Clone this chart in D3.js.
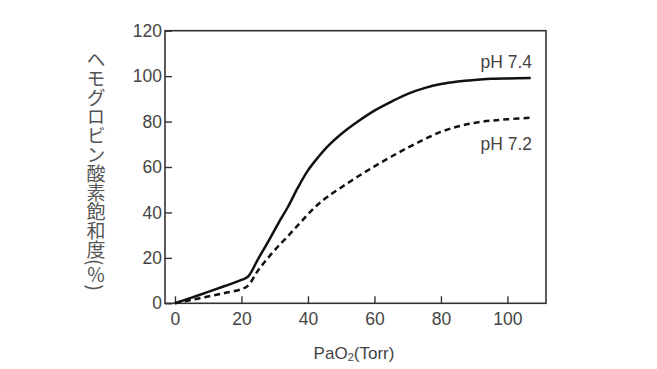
<!DOCTYPE html>
<html>
<head>
<meta charset="utf-8">
<script src="https://cdn.jsdelivr.net/npm/d3@7"></script>
<style>
  html, body { margin: 0; padding: 0; background: #fff; }
  svg { display: block; }
</style>
</head>
<body>
<svg id="chart" width="657" height="369"></svg>
<script>
// ---- data ----
const pao2 = [0, 5, 10, 15, 20, 22, 25, 28, 31, 34, 37, 40, 43, 46, 50, 55, 60, 65, 70, 75, 80, 85, 90, 95, 100, 107];
const satPH74 = [0, 2.5, 5, 7.6, 10.3, 11.8, 19.5, 27, 35, 42.5, 51, 58.5, 64.2, 69.2, 74.5, 80, 84.8, 88.7, 92.2, 94.7, 96.5, 97.6, 98.3, 98.8, 99, 99.2];
const satPH72 = [0, 1.5, 3, 4.5, 6.2, 7.8, 14.5, 20, 25, 29.6, 34.4, 39.2, 43.5, 47, 51, 55.8, 60.3, 64.5, 68.5, 72.2, 75.5, 77.8, 79.4, 80.4, 81, 81.7];
const xTicks = [0, 20, 40, 60, 80, 100];
const yTicks = [0, 20, 40, 60, 80, 100, 120];
const seriesLabels = ["pH 7.4", "pH 7.2"];
const xLabelMain = "PaO";
const xLabelSub = "2";
const xLabelTail = "(Torr)";
const yLabel = "ヘモグロビン酸素飽和度(％)";

// ---- layout ----
const svg = d3.select("#chart");
const pLeft = 165, pRight = 546, pTop = 30.7, pBottom = 303.3;
const x = d3.scaleLinear().domain([-3, 111.6]).range([pLeft, pRight]);
const y = d3.scaleLinear().domain([0, 120]).range([pBottom, pTop]);

const textColor = "#444";
const fontFam = "'Liberation Sans', Arial, Helvetica, sans-serif";

// box
svg.append("rect")
  .attr("x", pLeft).attr("y", pTop)
  .attr("width", pRight - pLeft).attr("height", pBottom - pTop)
  .attr("fill", "none").attr("stroke", "#333").attr("stroke-width", 1.6);

// y axis
const gy = svg.append("g").attr("transform", `translate(${pLeft},0)`)
  .call(d3.axisLeft(y).tickValues(yTicks).tickSizeInner(-7).tickSizeOuter(0).tickPadding(3));
gy.select(".domain").remove();
gy.selectAll(".tick line").attr("stroke", "#333").attr("stroke-width", 1.4);
gy.selectAll(".tick text").attr("fill", textColor).attr("font-size", 17.5).attr("font-family", fontFam);

// x axis
const gx = svg.append("g").attr("transform", `translate(0,${pBottom})`)
  .call(d3.axisBottom(x).tickValues(xTicks).tickSizeInner(-7).tickSizeOuter(0).tickPadding(9));
gx.select(".domain").remove();
gx.selectAll(".tick line").attr("stroke", "#333").attr("stroke-width", 1.4);
gx.selectAll(".tick text").attr("fill", textColor).attr("font-size", 17.5).attr("font-family", fontFam);

// lines
const line = d3.line().curve(d3.curveCatmullRom.alpha(0.5));
const pts74 = pao2.map((p, i) => [x(p), y(satPH74[i])]);
const pts72 = pao2.map((p, i) => [x(p), y(satPH72[i])]);

svg.append("path").attr("d", line(pts74))
  .attr("fill", "none").attr("stroke", "#111").attr("stroke-width", 2.5).attr("stroke-linejoin", "round");
svg.append("path").attr("d", line(pts72))
  .attr("fill", "none").attr("stroke", "#111").attr("stroke-width", 2.5).attr("stroke-dasharray", "6,4");

// series labels
svg.append("text").attr("x", 532).attr("y", 67.5).attr("text-anchor", "end")
  .attr("fill", textColor).attr("font-size", 17.5).attr("font-family", fontFam).text(seriesLabels[0]);
svg.append("text").attr("x", 532).attr("y", 150).attr("text-anchor", "end")
  .attr("fill", textColor).attr("font-size", 17.5).attr("font-family", fontFam).text(seriesLabels[1]);

// x label
const xl = svg.append("text").attr("x", 354).attr("y", 359).attr("text-anchor", "middle")
  .attr("fill", textColor).attr("font-size", 17).attr("font-family", fontFam);
xl.append("tspan").text(xLabelMain);
xl.append("tspan").attr("font-size", 11).attr("dy", 2).text(xLabelSub);
xl.append("tspan").attr("dy", -2).text(xLabelTail);

// y label (vertical)
svg.append("text")
  .attr("x", 96).attr("y", 170.5)
  .attr("text-anchor", "middle")
  .style("writing-mode", "vertical-rl")
  .attr("fill", "#555")
  .attr("font-size", 19)
  .attr("font-family", "'Noto Sans CJK JP', sans-serif")
  .text(yLabel);
</script>
</body>
</html>
